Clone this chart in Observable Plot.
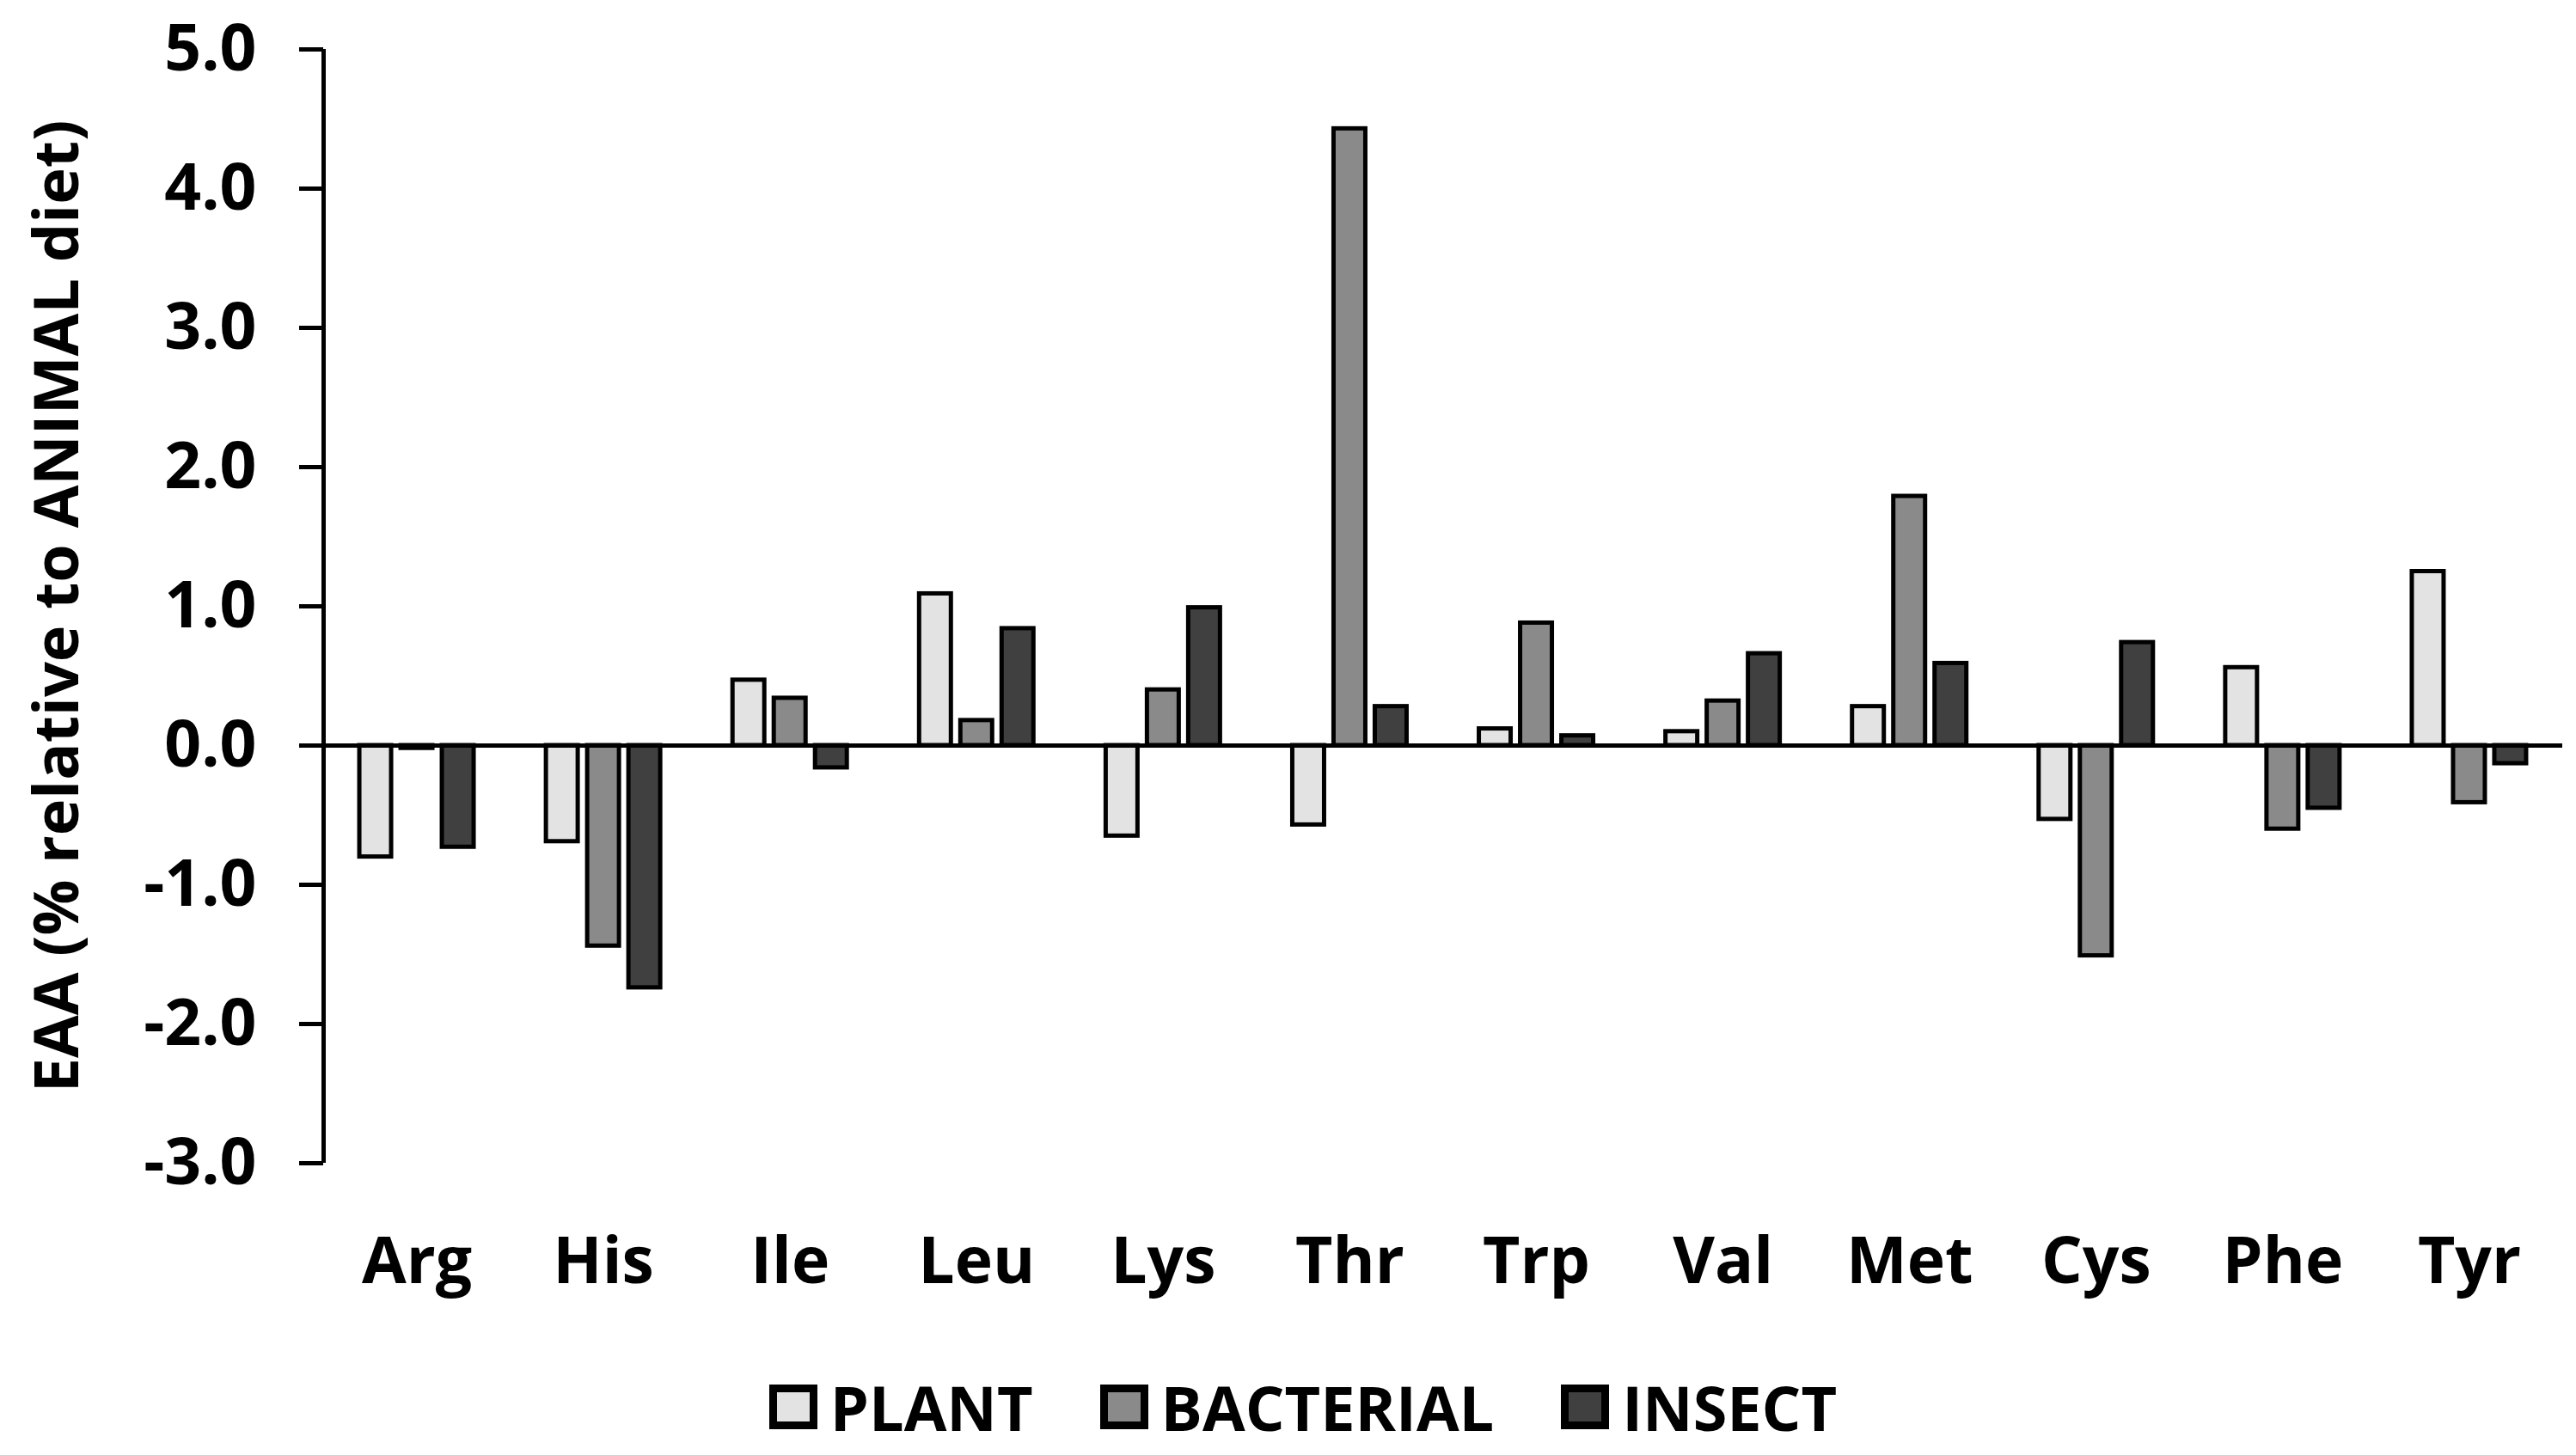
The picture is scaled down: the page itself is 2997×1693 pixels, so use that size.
<!DOCTYPE html>
<html>
<head>
<meta charset="utf-8">
<script src="https://cdn.jsdelivr.net/npm/d3@7"></script>
<script src="https://cdn.jsdelivr.net/npm/@observablehq/plot@0.6"></script>
<style>
  html, body { margin: 0; padding: 0; background: #fff; }
  #chart svg text { font-weight: bold; }
  .legend { display: flex; justify-content: center; align-items: center; height: 80px;
            margin-top: 37px; padding-left: 35px; font-family: "Open Sans", sans-serif;
            font-weight: bold; font-size: 72px; color: #000; gap: 78px; }
  .item { display: flex; align-items: center; }
  .sw { width: 56px; height: 52px; box-sizing: border-box; border: 9px solid #000; margin-right: 15px; }
</style>
</head>
<body>
<div id="chart"></div>
<div class="legend" id="legend"></div>
<script>
const categories = ["Arg","His","Ile","Leu","Lys","Thr","Trp","Val","Met","Cys","Phe","Tyr"];
const seriesNames = ["PLANT","BACTERIAL","INSECT"];
const plant     = [-0.80, -0.69,  0.47, 1.09, -0.65, -0.57, 0.12, 0.10, 0.28, -0.53,  0.56,  1.25];
const bacterial = [-0.02, -1.44,  0.34, 0.18,  0.40,  4.43, 0.88, 0.32, 1.79, -1.51, -0.60, -0.41];
const insect    = [-0.73, -1.74, -0.16, 0.84,  0.99,  0.28, 0.07, 0.66, 0.59,  0.74, -0.45, -0.13];
const seriesColors = ["#e3e3e3", "#8a8a8a", "#404040"];
const yTicks = [-3, -2, -1, 0, 1, 2, 3, 4, 5];
const yLabel = "EAA (% relative to ANIMAL diet)";

const W = 2997, H = 1560, mL = 376, mR = 16, mT = 57, mB = H - 1353;
const bw = (W - mL - mR) / categories.length;
const barStep = 48, barW = 37;

const seriesData = [plant, bacterial, insect].map((vals, i) =>
  categories.map((c, j) => ({category: c, series: seriesNames[i], value: vals[j]})));

const chart = Plot.plot({
  width: W, height: H,
  marginLeft: mL, marginRight: mR, marginTop: mT, marginBottom: mB,
  style: {fontFamily: "'Open Sans', sans-serif", fontSize: "74px", background: "#fff", color: "#000"},
  x: {domain: categories, padding: 0, round: false},
  y: {domain: [-3, 5]},
  marks: [
    ...seriesData.map((d, i) => Plot.barY(d, {
      x: "category", y: "value", fill: seriesColors[i], stroke: "#000", strokeWidth: 5,
      insetLeft: (bw - barW) / 2, insetRight: (bw - barW) / 2, dx: (i - 1) * barStep
    })),
    Plot.ruleY([0], {stroke: "#000", strokeWidth: 5}),
    Plot.ruleX([categories[0]], {dx: -bw / 2, stroke: "#000", strokeWidth: 5}),
    Plot.axisY({ticks: yTicks, tickFormat: d => d.toFixed(1), tickSize: 28, tickPadding: 50,
                strokeWidth: 5, fontSize: 75, label: null}),
    Plot.axisX({tickSize: 0, tickPadding: 86, fontSize: 75, label: null}),
    Plot.text([yLabel], {frameAnchor: "left", textAnchor: "middle", rotate: -90, dx: -309,
                         fontSize: 72, fontWeight: "bold", fill: "#000"})
  ]
});
document.getElementById("chart").appendChild(chart);

const legend = document.getElementById("legend");
seriesNames.forEach((name, i) => {
  const item = document.createElement("span");
  item.className = "item";
  const sw = document.createElement("span");
  sw.className = "sw";
  sw.style.background = seriesColors[i];
  const lab = document.createElement("span");
  lab.textContent = name;
  item.appendChild(sw); item.appendChild(lab);
  legend.appendChild(item);
});
</script>
</body>
</html>
